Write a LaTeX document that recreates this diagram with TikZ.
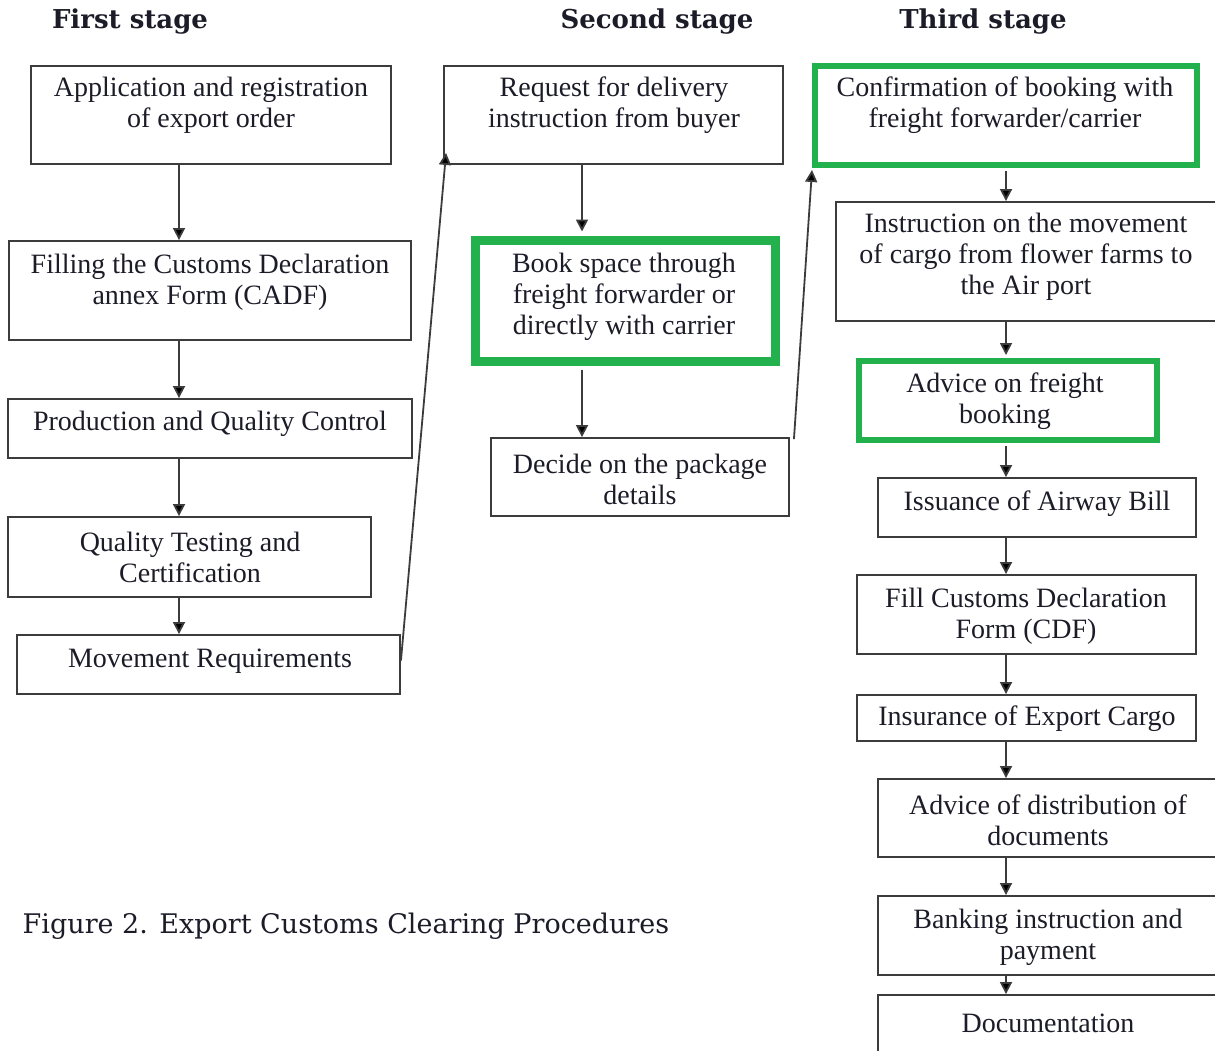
\documentclass[tikz,border=0pt]{standalone}
\usepackage{fontspec}
\setmainfont{Liberation Serif}
\newfontfamily\headfont{DejaVu Serif}
\usetikzlibrary{arrows.meta,calc}
\definecolor{boxline}{HTML}{3C3C3C}
\definecolor{hlgreen}{HTML}{22B14C}
\definecolor{txtcol}{HTML}{1C1C28}
\begin{document}
\begin{tikzpicture}[x=1pt,y=-1pt,
  pbox/.style={draw=boxline,line width=1.9pt,inner sep=0pt,rectangle},
  gbox/.style={draw=hlgreen,inner sep=0pt,rectangle},
  ptxt/.style={align=center,inner sep=0pt,text=txtcol,font=\fontsize{28}{31}\selectfont},
  htxt/.style={inner sep=0pt,text=txtcol,font=\headfont\bfseries\fontsize{26}{30}\selectfont},
  flow/.style={draw=boxline,line width=1.8pt,-{Triangle[length=12pt,width=12pt,fill=black]}}]
\useasboundingbox (0,0) rectangle (1215,1050);
\clip (0,0) rectangle (1215,1050);
% column x positions
\coordinate (col1) at (179,0);
\coordinate (col2) at (582,0);
\coordinate (col3) at (1006,0);
% headings
\node[htxt] (h1) at (130,22) {First stage};
\node[htxt] (h2) at (657,22) {Second stage};
\node[htxt] (h3) at (983,22) {Third stage};
% first stage
\node[pbox,minimum width=360pt,minimum height=98pt] (a1) at (211,115) {};
\node[ptxt] (a1t) at (211,105) {Application and registration\\of export order};
\node[pbox,minimum width=402pt,minimum height=99pt] (a2) at (210,290.5) {};
\node[ptxt] (a2t) at (210,282) {Filling the Customs Declaration\\annex Form (CADF)};
\node[pbox,minimum width=404pt,minimum height=59pt] (a3) at (210,428.5) {};
\node[ptxt] (a3t) at (210,424) {Production and Quality Control};
\node[pbox,minimum width=363pt,minimum height=80pt] (a4) at (189.5,557) {};
\node[ptxt] (a4t) at (190,557) {Quality Testing and\\Certification};
\node[pbox,minimum width=383pt,minimum height=59pt] (a5) at (208.5,664.5) {};
\node[ptxt] (a5t) at (210,661) {Movement Requirements};
% second stage
\node[pbox,minimum width=339pt,minimum height=98pt] (b1) at (613.5,115) {};
\node[ptxt] (b1t) at (614,105) {Request for delivery\\instruction from buyer};
\node[gbox,line width=9pt,minimum width=300pt,minimum height=121pt] (b2) at (625,300.5) {};
\node[ptxt] (b2t) at (624,297) {Book space through\\freight forwarder or\\directly with carrier};
\node[pbox,minimum width=298pt,minimum height=78pt] (b3) at (640,477) {};
\node[ptxt] (b3t) at (640,479) {Decide on the package\\details};
% third stage
\node[gbox,line width=6pt,minimum width=382pt,minimum height=99pt] (c1) at (1006,115.5) {};
\node[ptxt] (c1t) at (1005,105) {Confirmation of booking with\\freight forwarder/carrier};
\node[pbox,minimum width=384pt,minimum height=119pt] (c2) at (1028,261.5) {};
\node[ptxt] (c2t) at (1026,257) {Instruction on the movement\\of cargo from flower farms to\\the Air port};
\node[gbox,line width=6pt,minimum width=298pt,minimum height=79pt] (c3) at (1008,400.5) {};
\node[ptxt] (c3t) at (1005,401) {Advice on freight\\booking};
\node[pbox,minimum width=318pt,minimum height=59pt] (c4) at (1037,507.5) {};
\node[ptxt] (c4t) at (1037,504) {Issuance of Airway Bill};
\node[pbox,minimum width=339pt,minimum height=79pt] (c5) at (1026.5,614.5) {};
\node[ptxt] (c5t) at (1026,616) {Fill Customs Declaration\\Form (CDF)};
\node[pbox,minimum width=339pt,minimum height=46pt] (c6) at (1026.5,718) {};
\node[ptxt] (c6t) at (1027,719) {Insurance of Export Cargo};
\node[pbox,minimum width=340pt,minimum height=78pt] (c7) at (1048,818) {};
\node[ptxt] (c7t) at (1048,820) {Advice of distribution of\\documents};
\node[pbox,minimum width=340pt,minimum height=79pt] (c8) at (1048,935.5) {};
\node[ptxt] (c8t) at (1048,937) {Banking instruction and\\payment};
\node[pbox,minimum width=340pt,minimum height=60pt] (c9) at (1048,1025) {};
\node[ptxt] (c9t) at (1048,1023) {Documentation};
% caption
\node[inner sep=0pt,text=txtcol,font=\headfont\fontsize{27}{30}\selectfont] (cap) at (346,926) {Figure 2. Export Customs Clearing Procedures};
% connectors, first stage
\draw[flow] (a1.south -| col1) -- (a2.north -| col1);
\draw[flow] (a2.south -| col1) -- (a3.north -| col1);
\draw[flow] (a3.south -| col1) -- (a4.north -| col1);
\draw[flow] (a4.south -| col1) -- (a5.north -| col1);
\draw[flow] ($(a5.east)+(0,-4)$) -- ($(b1.south west)+(3,-12)$);
% second stage
\draw[flow] (b1.south -| col2) -- ($(b2.north -| col2)+(0,-4)$);
\draw[flow] ($(b2.south -| col2)+(0,4)$) -- (b3.north -| col2);
\draw[flow] ($(b3.north east)+(4,2)$) -- ($(c1.south west)+(0,2)$);
% third stage
\draw[flow] ($(c1.south -| col3)+(0,3)$) -- (c2.north -| col3);
\draw[flow] (c2.south -| col3) -- ($(c3.north -| col3)+(0,-3)$);
\draw[flow] ($(c3.south -| col3)+(0,3)$) -- (c4.north -| col3);
\draw[flow] (c4.south -| col3) -- (c5.north -| col3);
\draw[flow] (c5.south -| col3) -- (c6.north -| col3);
\draw[flow] (c6.south -| col3) -- (c7.north -| col3);
\draw[flow] (c7.south -| col3) -- (c8.north -| col3);
\draw[flow] (c8.south -| col3) -- (c9.north -| col3);
\end{tikzpicture}
\end{document}
